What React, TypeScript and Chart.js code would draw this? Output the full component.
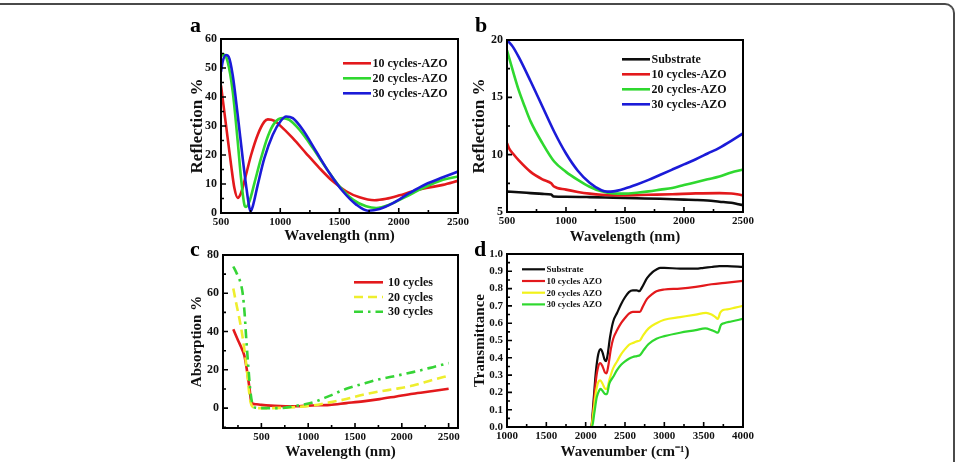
import { useEffect, useRef } from 'react';
import { Chart, registerables } from 'chart.js';

Chart.register(...registerables);

// ---------- Panel a: reflection of AZO films (wavelength, nm) ----------
const aRedX = [500, 542, 585, 613, 641, 669, 711, 754, 810, 866, 895, 951, 993, 1106, 1218, 1331, 1444, 1556, 1669, 1796, 1894, 2007, 2120, 2232, 2373, 2500];
const aRedY = [44, 30.4, 16.6, 8.6, 5.2, 6.9, 13.2, 20, 27, 31.5, 32.3, 31.8, 30.4, 25.8, 20.6, 15.5, 10.9, 7.5, 5.4, 4.4, 4.9, 6.1, 7.5, 8.6, 9.7, 11.1];
const aGreenX = [500, 520, 556, 599, 641, 669, 697, 711, 740, 782, 838, 895, 951, 1021, 1077, 1162, 1275, 1387, 1500, 1613, 1725, 1810, 1923, 2063, 2204, 2373, 2500];
const aGreenY = [53.9, 54.7, 52.2, 41.9, 24.7, 12, 2.9, 2.1, 4, 10.3, 18.9, 26.4, 31, 32.7, 32.1, 28.7, 22.4, 15.5, 9.2, 4.6, 2.3, 1.7, 2.9, 5.7, 8.6, 11.5, 12.6];
const aBlueX = [500, 514, 542, 564, 599, 641, 683, 711, 740, 750, 768, 810, 866, 937, 1007, 1049, 1106, 1190, 1303, 1415, 1528, 1641, 1740, 1838, 1951, 2092, 2232, 2373, 2500];
const aBlueY = [48.7, 52.2, 54.5, 53.9, 47.5, 33.8, 18.9, 9.7, 1.7, 0.6, 2.3, 9.7, 18.9, 27, 31.9, 33.3, 32.7, 28.7, 21.2, 13.8, 7.5, 2.9, 0.8, 1.4, 3.4, 6.9, 10, 12.3, 14.3];
const aYTicks = [0, 10, 20, 30, 40, 50, 60];
const aXTicks = [500, 1000, 1500, 2000, 2500];

// ---------- Panel b: reflection incl. bare substrate ----------
const bSubX = [500, 600, 700, 800, 875, 895, 1000, 1200, 1400, 1600, 1800, 2000, 2100, 2200, 2300, 2400, 2450, 2500];
const bSubY = [6.78, 6.72, 6.65, 6.58, 6.52, 6.35, 6.33, 6.3, 6.25, 6.2, 6.15, 6.08, 6.05, 6.0, 5.9, 5.8, 5.7, 5.6];
const bRedX = [500, 520, 550, 600, 700, 800, 875, 895, 1000, 1100, 1200, 1300, 1500, 1700, 1900, 2100, 2300, 2400, 2450, 2500];
const bRedY = [11.0, 10.5, 10.1, 9.5, 8.5, 7.85, 7.5, 7.25, 6.95, 6.75, 6.6, 6.5, 6.45, 6.5, 6.55, 6.62, 6.65, 6.62, 6.55, 6.45];
const bGreenX = [500, 550, 600, 650, 700, 800, 900, 1000, 1100, 1200, 1300, 1400, 1500, 1600, 1700, 1800, 1900, 2000, 2100, 2200, 2300, 2400, 2500];
const bGreenY = [19.1, 17.3, 15.6, 14.2, 12.9, 11.0, 9.4, 8.5, 7.8, 7.2, 6.8, 6.62, 6.6, 6.68, 6.8, 6.95, 7.1, 7.35, 7.6, 7.85, 8.1, 8.45, 8.7];
const bBlueX = [500, 550, 600, 700, 800, 900, 1000, 1100, 1200, 1300, 1350, 1400, 1500, 1600, 1700, 1800, 1900, 2000, 2100, 2200, 2300, 2400, 2500];
const bBlueY = [20.0, 19.4, 18.5, 16.4, 14.2, 12.0, 10.1, 8.6, 7.55, 6.9, 6.78, 6.8, 7.05, 7.4, 7.8, 8.25, 8.7, 9.15, 9.6, 10.1, 10.6, 11.2, 11.85];
const bYTicks = [5, 10, 15, 20];
const bXTicks = [500, 1000, 1500, 2000, 2500];

// ---------- Panel c: absorption ----------
const cRedX = [200, 250, 300, 320, 340, 360, 375, 390, 410, 450, 500, 600, 700, 800, 900, 1000, 1228, 1407, 1585, 1763, 1941, 2119, 2333, 2500];
const cRedY = [41.2, 35.5, 30, 27, 21.5, 15, 9.6, 3.5, 2.3, 2.0, 1.7, 1.3, 1.1, 1.0, 1.0, 1.3, 1.7, 2.6, 3.5, 4.7, 6.1, 7.5, 8.9, 10.1];
const cYellowX = [200, 230, 260, 290, 320, 345, 365, 385, 410, 450, 600, 800, 1049, 1228, 1407, 1585, 1763, 1941, 2119, 2333, 2500];
const cYellowY = [62.5, 55, 48, 40, 30, 20, 10, 3, 0.5, 0, 0, 0.3, 1.4, 3.0, 4.7, 7.0, 8.7, 10.1, 11.8, 14.8, 16.9];
const cGreenX = [200, 240, 280, 300, 320, 340, 360, 380, 400, 430, 500, 700, 838, 1049, 1228, 1407, 1585, 1763, 1941, 2119, 2333, 2500];
const cGreenY = [74, 70, 65, 60, 50, 35, 22, 10, 3, 0.3, 0, 0, 0.9, 3.0, 6.4, 10.1, 12.7, 15.1, 16.9, 18.8, 21.4, 23.5];
const cYTicks = [0, 20, 40, 60, 80];
const cXTicks = [500, 1000, 1500, 2000, 2500];

// ---------- Panel d: IR transmittance (wavenumber, cm-1) ----------
const dSubX = [1000, 2000, 2070, 2100, 2130, 2160, 2190, 2215, 2240, 2260, 2280, 2310, 2350, 2400, 2450, 2500, 2550, 2600, 2650, 2680, 2720, 2780, 2850, 2900, 2950, 3000, 3200, 3400, 3500, 3600, 3700, 3800, 4000];
const dSubY = [0, 0, 0, 0.15, 0.32, 0.42, 0.45, 0.43, 0.39, 0.38, 0.42, 0.52, 0.61, 0.66, 0.71, 0.75, 0.78, 0.79, 0.79, 0.785, 0.81, 0.86, 0.895, 0.91, 0.92, 0.92, 0.915, 0.915, 0.92, 0.925, 0.93, 0.93, 0.925];
const dRedX = [1000, 2000, 2070, 2100, 2130, 2160, 2185, 2215, 2245, 2265, 2290, 2320, 2350, 2400, 2450, 2500, 2550, 2600, 2650, 2690, 2720, 2780, 2850, 2900, 3000, 3200, 3400, 3600, 3800, 4000];
const dRedY = [0, 0, 0, 0.12, 0.27, 0.35, 0.37, 0.35, 0.315, 0.31, 0.36, 0.45, 0.51, 0.56, 0.6, 0.63, 0.655, 0.665, 0.665, 0.665, 0.69, 0.74, 0.77, 0.785, 0.795, 0.8, 0.81, 0.825, 0.835, 0.845];
const dYellowX = [1000, 2000, 2070, 2100, 2130, 2160, 2185, 2215, 2250, 2270, 2300, 2350, 2400, 2450, 2500, 2550, 2600, 2650, 2690, 2730, 2800, 2900, 3000, 3200, 3400, 3530, 3600, 3650, 3680, 3710, 3740, 3800, 3900, 4000];
const dYellowY = [0, 0, 0, 0.09, 0.2, 0.26, 0.27, 0.25, 0.22, 0.22, 0.27, 0.34, 0.38, 0.42, 0.45, 0.475, 0.485, 0.495, 0.5, 0.53, 0.57, 0.6, 0.62, 0.635, 0.65, 0.66, 0.65, 0.635, 0.625, 0.66, 0.675, 0.68, 0.69, 0.7];
const dGreenX = [1000, 2000, 2080, 2110, 2140, 2170, 2190, 2220, 2250, 2270, 2300, 2350, 2400, 2450, 2500, 2550, 2600, 2650, 2690, 2730, 2800, 2900, 3000, 3200, 3400, 3520, 3600, 3650, 3680, 3720, 3760, 3850, 4000];
const dGreenY = [0, 0, 0, 0.08, 0.17, 0.21, 0.22, 0.205, 0.19, 0.19, 0.25, 0.29, 0.33, 0.36, 0.38, 0.395, 0.405, 0.41, 0.415, 0.44, 0.48, 0.51, 0.525, 0.545, 0.56, 0.57, 0.56, 0.55, 0.545, 0.59, 0.6, 0.61, 0.625];
const dYTicks = [0, 0.1, 0.2, 0.3, 0.4, 0.5, 0.6, 0.7, 0.8, 0.9, 1.0];
const dXTicks = [1000, 1500, 2000, 2500, 3000, 3500, 4000];

const SERIF = "'Liberation Serif', 'Times New Roman', serif";
const RED = '#e3191c';
const GREEN = '#2fd82f';
const BLUE = '#1b1bd8';
const BLACK = '#0d0d0d';
const YELLOW = '#f2f21a';

type Series = { label: string; x: number[]; y: number[]; color: string; dash?: number[] };
type Panel = {
  letter: string; letterX: number; letterY: number;
  box: [number, number, number, number];
  xMin: number; xMax: number; yMin: number; yMax: number;
  xTicks: number[]; yTicks: number[]; yDecimals: number; yTickSize: number;
  xTitle: string; yTitle: string; xTitleY: number; yTitleX: number; yTitleSize: number;
  lineWidth: number;
  legend: { x: number; y: number; len: number; gap: number; row: number; size: number };
  series: Series[];
};

const panels: Panel[] = [
  {
    letter: 'a', letterX: 190, letterY: 32,
    box: [221, 39, 458, 213],
    xMin: 500, xMax: 2500, yMin: 0, yMax: 60,
    xTicks: aXTicks, yTicks: aYTicks, yDecimals: 0, yTickSize: 12,
    xTitle: 'Wavelength (nm)', yTitle: 'Reflection %', xTitleY: 235.7, yTitleX: 197.5, yTitleSize: 17,
    lineWidth: 2.6,
    legend: { x: 343, y: 63.3, len: 28, gap: 1.5, row: 15, size: 12 },
    series: [
      { label: '10 cycles-AZO', x: aRedX, y: aRedY, color: RED },
      { label: '20 cycles-AZO', x: aGreenX, y: aGreenY, color: GREEN },
      { label: '30 cycles-AZO', x: aBlueX, y: aBlueY, color: BLUE },
    ],
  },
  {
    letter: 'b', letterX: 475, letterY: 32,
    box: [507, 40, 743, 212],
    xMin: 500, xMax: 2500, yMin: 5, yMax: 20,
    xTicks: bXTicks, yTicks: bYTicks, yDecimals: 0, yTickSize: 12,
    xTitle: 'Wavelength (nm)', yTitle: 'Reflection %', xTitleY: 236.7, yTitleX: 480, yTitleSize: 17,
    lineWidth: 2.6,
    legend: { x: 622, y: 59.3, len: 28, gap: 1.5, row: 15, size: 12 },
    series: [
      { label: 'Substrate', x: bSubX, y: bSubY, color: BLACK },
      { label: '10 cycles-AZO', x: bRedX, y: bRedY, color: RED },
      { label: '20 cycles-AZO', x: bGreenX, y: bGreenY, color: GREEN },
      { label: '30 cycles-AZO', x: bBlueX, y: bBlueY, color: BLUE },
    ],
  },
  {
    letter: 'c', letterX: 190, letterY: 256,
    box: [223, 255, 458, 428],
    xMin: 90, xMax: 2600, yMin: -10.4, yMax: 80,
    xTicks: cXTicks, yTicks: cYTicks, yDecimals: 0, yTickSize: 12,
    xTitle: 'Wavelength (nm)', yTitle: 'Absorption %', xTitleY: 451.7, yTitleX: 197.5, yTitleSize: 15,
    lineWidth: 2.6,
    legend: { x: 354, y: 282.3, len: 29, gap: 5, row: 14.7, size: 12 },
    series: [
      { label: '10 cycles', x: cRedX, y: cRedY, color: RED },
      { label: '20 cycles', x: cYellowX, y: cYellowY, color: '#eeee2e', dash: [9, 5] },
      { label: '30 cycles', x: cGreenX, y: cGreenY, color: '#36d436', dash: [9, 5, 2.5, 5] },
    ],
  },
  {
    letter: 'd', letterX: 474, letterY: 256,
    box: [507, 254, 743, 427],
    xMin: 1000, xMax: 4000, yMin: 0, yMax: 1.0,
    xTicks: dXTicks, yTicks: dYTicks, yDecimals: 1, yTickSize: 11,
    xTitle: 'Wavenumber (cm\u207B\u00B9)', yTitle: 'Transmittance', xTitleY: 451.7, yTitleX: 480, yTitleSize: 15,
    lineWidth: 2.2,
    legend: { x: 522, y: 269.3, len: 23, gap: 1.5, row: 11.7, size: 9 },
    series: [
      { label: 'Substrate', x: dSubX, y: dSubY, color: BLACK },
      { label: '10 cycles AZO', x: dRedX, y: dRedY, color: RED },
      { label: '20 cycles AZO', x: dYellowX, y: dYellowY, color: YELLOW },
      { label: '30 cycles AZO', x: dGreenX, y: dGreenY, color: GREEN },
    ],
  },
];

const PAGE_W = 955;
const PAGE_H = 462;

function minorTicks(major: number[], min: number, max: number): number[] {
  const step = major[1] - major[0];
  const out: number[] = [];
  const first = major[0] - step / 2;
  for (let v = first; v <= max + 1e-9; v += step) {
    if (v >= min - 1e-9) out.push(v);
  }
  return out;
}

function makeChart(canvas: HTMLCanvasElement, p: Panel): Chart {
  const [L, T, R, B] = p.box;
  const yW = L - p.yTitleX + p.yTitleSize / 2;
  const xH = p.xTitleY + 7.5 - B;
  const n = p.series.length;

  const framePlugin = {
    id: 'frameTicks',
    afterDatasetsDraw(chart: Chart) {
      const { ctx, chartArea: a } = chart;
      const xs = chart.scales.x;
      const ys = chart.scales.y;
      ctx.save();
      ctx.strokeStyle = '#000';
      ctx.lineWidth = 1.6;
      ctx.beginPath();
      p.xTicks.forEach((v) => {
        const px = xs.getPixelForValue(v);
        ctx.moveTo(px, a.bottom);
        ctx.lineTo(px, a.bottom - 5);
      });
      minorTicks(p.xTicks, p.xMin, p.xMax).forEach((v) => {
        const px = xs.getPixelForValue(v);
        ctx.moveTo(px, a.bottom);
        ctx.lineTo(px, a.bottom - 3);
      });
      p.yTicks.forEach((v) => {
        const py = ys.getPixelForValue(v);
        ctx.moveTo(a.left, py);
        ctx.lineTo(a.left + 5, py);
      });
      minorTicks(p.yTicks, p.yMin, p.yMax).forEach((v) => {
        const py = ys.getPixelForValue(v);
        ctx.moveTo(a.left, py);
        ctx.lineTo(a.left + 3, py);
      });
      ctx.stroke();
      ctx.lineWidth = 2;
      ctx.strokeRect(a.left, a.top, a.right - a.left, a.bottom - a.top);
      ctx.restore();
    },
    afterDraw(chart: Chart) {
      const { ctx } = chart;
      const lg = p.legend;
      ctx.save();
      chart.data.datasets.forEach((ds: any, i: number) => {
        const y = lg.y + i * lg.row;
        ctx.beginPath();
        ctx.setLineDash(ds.borderDash || []);
        ctx.strokeStyle = ds.borderColor;
        ctx.lineWidth = p.lineWidth;
        ctx.moveTo(lg.x, y);
        ctx.lineTo(lg.x + lg.len, y);
        ctx.stroke();
        ctx.setLineDash([]);
        ctx.fillStyle = '#111';
        ctx.font = `bold ${lg.size}px ${SERIF}`;
        ctx.textBaseline = 'middle';
        ctx.textAlign = 'left';
        ctx.fillText(ds.label, lg.x + lg.len + lg.gap, y + 0.5);
      });
      ctx.fillStyle = '#000';
      ctx.font = `bold 22px ${SERIF}`;
      ctx.textBaseline = 'alphabetic';
      ctx.fillText(p.letter, p.letterX, p.letterY);
      ctx.restore();
    },
  };

  return new Chart(canvas, {
    type: 'line',
    data: {
      datasets: p.series.map((s, i) => ({
        label: s.label,
        data: s.x.map((x, j) => ({ x, y: s.y[j] })),
        borderColor: s.color,
        backgroundColor: s.color,
        borderWidth: p.lineWidth,
        borderDash: s.dash || [],
        pointRadius: 0,
        fill: false,
        cubicInterpolationMode: 'monotone' as const,
        order: n - i,
      })),
    },
    options: {
      animation: false,
      responsive: false,
      devicePixelRatio: 1,
      events: [],
      layout: { padding: { left: L - yW, top: T, right: PAGE_W - R, bottom: PAGE_H - B - xH } },
      plugins: { legend: { display: false }, tooltip: { enabled: false } },
      scales: {
        x: {
          type: 'linear',
          min: p.xMin,
          max: p.xMax,
          afterFit: (s: any) => { s.height = xH; },
          afterBuildTicks: (s: any) => { s.ticks = p.xTicks.map((value) => ({ value })); },
          grid: { display: false, drawTicks: false },
          border: { display: false },
          ticks: {
            autoSkip: false, maxRotation: 0, padding: 3, color: '#111',
            font: { family: SERIF, size: 11, weight: 'bold' },
            callback: (v: any) => String(v),
          },
          title: {
            display: true, text: p.xTitle, color: '#111', padding: { top: 0, bottom: 0 },
            font: { family: SERIF, size: 15, weight: 'bold', lineHeight: 1 },
          },
        },
        y: {
          type: 'linear',
          min: p.yMin,
          max: p.yMax,
          afterFit: (s: any) => { s.width = yW; },
          afterBuildTicks: (s: any) => { s.ticks = p.yTicks.map((value) => ({ value })); },
          grid: { display: false, drawTicks: false },
          border: { display: false },
          ticks: {
            autoSkip: false, padding: 4, color: '#111',
            font: { family: SERIF, size: p.yTickSize, weight: 'bold' },
            callback: (v: any) => Number(v).toFixed(p.yDecimals),
          },
          title: {
            display: true, text: p.yTitle, color: '#111', padding: { top: 0, bottom: 0 },
            font: { family: SERIF, size: p.yTitleSize, weight: 'bold', lineHeight: 1 },
          },
        },
      },
    } as any,
    plugins: [framePlugin],
  });
}

export default function App() {
  const r0 = useRef<HTMLCanvasElement>(null);
  const r1 = useRef<HTMLCanvasElement>(null);
  const r2 = useRef<HTMLCanvasElement>(null);
  const r3 = useRef<HTMLCanvasElement>(null);
  const refs = [r0, r1, r2, r3];

  useEffect(() => {
    const charts = panels.map((p, i) => makeChart(refs[i].current as HTMLCanvasElement, p));
    return () => charts.forEach((c) => c.destroy());
  }, []);

  return (
    <div style={{ position: 'fixed', left: 0, top: 0, width: PAGE_W, height: PAGE_H, overflow: 'hidden', background: '#fff' }}>
      <div
        style={{
          position: 'absolute', left: -12, top: 3, width: 967, height: 520, boxSizing: 'border-box',
          borderTop: '2px solid #4a4a4a', borderRight: '2px solid #4a4a4a', borderTopRightRadius: 10,
        }}
      />
      {refs.map((r, i) => (
        <canvas key={i} ref={r} width={PAGE_W} height={PAGE_H} style={{ position: 'absolute', left: 0, top: 0 }} />
      ))}
    </div>
  );
}
